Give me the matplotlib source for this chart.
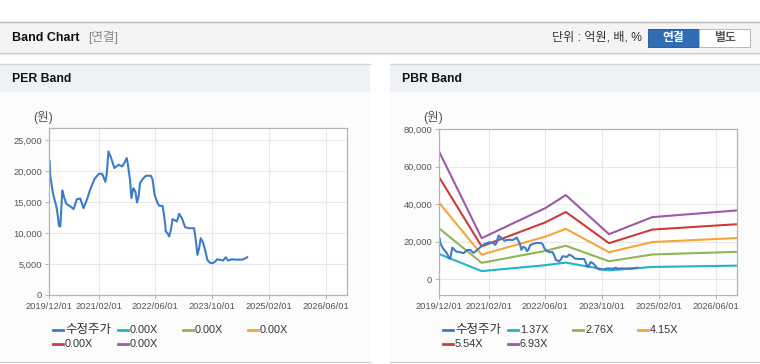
import numpy as np
import pandas as pd
import matplotlib
matplotlib.use('Agg')
import matplotlib.pyplot as plt
from matplotlib.patches import Rectangle
from matplotlib.lines import Line2D
from matplotlib.ticker import FuncFormatter

plt.rcParams['font.family'] = ['Liberation Sans', 'Noto Sans CJK KR', 'DejaVu Sans']

W, H = 760, 364

# adjusted share price (수정주가), same series on both charts
price_dates = [
    '2019-12-07', '2019-12-12', '2019-12-21', '2020-01-04', '2020-01-18', '2020-02-02',
    '2020-02-16', '2020-02-24', '2020-03-07', '2020-03-13', '2020-03-24', '2020-04-07',
    '2020-04-27', '2020-05-26', '2020-06-29', '2020-07-27', '2020-08-25', '2020-09-22',
    '2020-10-21', '2020-11-18', '2020-12-25', '2021-01-31', '2021-03-01', '2021-03-29',
    '2021-04-10', '2021-04-24', '2021-05-17', '2021-06-14', '2021-07-21', '2021-08-19',
    '2021-09-08', '2021-09-28', '2021-10-06', '2021-10-26', '2021-11-07', '2021-11-24',
    '2021-12-11', '2021-12-25', '2022-01-08', '2022-01-20', '2022-02-11', '2022-03-12',
    '2022-04-24', '2022-05-08', '2022-05-25', '2022-06-20', '2022-07-04', '2022-08-01',
    '2022-08-16', '2022-08-30', '2022-09-13', '2022-09-27', '2022-10-12', '2022-10-26',
    '2022-11-18', '2022-12-02', '2022-12-22', '2023-01-14', '2023-02-11', '2023-03-12',
    '2023-04-09', '2023-04-29', '2023-05-13', '2023-05-28', '2023-06-11', '2023-06-25',
    '2023-07-15', '2023-08-01', '2023-08-21', '2023-09-10', '2023-10-03', '2023-10-26',
    '2023-11-14', '2023-12-13', '2024-01-02', '2024-01-25', '2024-02-16', '2024-03-16',
    '2024-04-19', '2024-06-15', '2024-07-08', '2024-07-28',
]
price_values = [
    21600, 19280, 18100, 16470, 15390, 14310,
    12690, 11180, 11070, 12960, 16900, 15930,
    14740, 14420, 13880, 15500, 15600, 14040,
    15390, 17010, 18740, 19600, 19600, 18300,
    19700, 23220, 22140, 20520, 21060, 20790,
    21330, 22140, 21330, 18630, 15660, 17280,
    16740, 14960, 15930, 18090, 18740, 19280,
    19280, 18630, 16200, 14850, 14420, 14420,
    12690, 10260, 9990, 9450, 10530, 12260,
    12040, 11880, 13120, 12420, 10960, 10800,
    10800, 10800, 8910, 6480, 7560, 9180,
    8480, 7290, 5670, 5240, 5130, 5400,
    5780, 5670, 5560, 6100, 5560, 5780,
    5720, 5720, 5890, 6100,
]

# PBR band lines
band_dates = ['2019-12-01', '2020-12-01', '2022-06-01', '2022-11-23',
              '2023-11-29', '2024-12-04', '2026-12-01']
pbr_labels = ['1.37X', '2.76X', '4.15X', '5.54X', '6.93X']
pbr_137 = [13460, 4320, 7490, 8860, 4740, 6540, 7240]
pbr_276 = [27120, 8710, 15090, 17840, 9560, 13170, 14600]
pbr_415 = [40780, 13100, 22700, 26830, 14370, 19800, 21950]
pbr_554 = [54440, 17480, 30300, 35820, 19190, 26440, 29300]
pbr_693 = [68100, 21870, 37900, 44800, 24000, 33070, 36650]
pbr_bands = [pbr_137, pbr_276, pbr_415, pbr_554, pbr_693]

# PER bands have no data (0.00X)
per_labels = ['0.00X', '0.00X', '0.00X', '0.00X', '0.00X']

date_ticks = ['2019-12-01', '2021-02-01', '2022-06-01', '2023-10-01', '2025-02-01', '2026-06-01']
per_yticks = [0, 5000, 10000, 15000, 20000, 25000]
pbr_yticks = [0, 20000, 40000, 60000, 80000]

price_color = '#3d7cc9'
band_colors = ['#22b5c8', '#8cb752', '#f5a53a', '#d13a3a', '#9b59a7']

fig = plt.figure(figsize=(W / 100, H / 100), dpi=100)
fig.patch.set_facecolor('white')


def rect(x, y, w, h, fc, ec='none', lw=0, z=-2):
    fig.patches.append(Rectangle((x / W, 1 - (y + h) / H), w / W, h / H,
                                 transform=fig.transFigure, fc=fc, ec=ec, lw=lw, zorder=z))


def hline(x0, x1, y, color, lw=0.8):
    fig.lines.append(Line2D([x0 / W, x1 / W], [1 - y / H] * 2,
                            transform=fig.transFigure, color=color, lw=lw, zorder=-1))


def txt(x, y, s, **kw):
    fig.text(x / W, 1 - y / H, s, va='center', **kw)


# top header bar
rect(0, 22, 760, 30, '#f4f4f4')
hline(0, 760, 22, '#b8b8b8', 1.0)
hline(0, 760, 52.5, '#c4c4c4', 1.0)
hline(0, 760, 54, '#e8e8e8', 1.0)
txt(12, 38, 'Band Chart', fontsize=9, fontweight='bold', color='#111111')
txt(88, 38, '[연결]', fontsize=9, color='#8a8a8a')
txt(642, 38, '단위 : 억원, 배, %', fontsize=8.7, color='#333333', ha='right')
rect(648, 29, 51, 18, '#2f6db5', '#2a5f9e', 0.7, z=1)
rect(699, 29, 51, 18, '#ffffff', '#b8b8b8', 0.7, z=1)
txt(673.5, 38.5, '연결', fontsize=8.5, fontweight='bold', color='white', ha='center')
txt(724.5, 38.5, '별도', fontsize=8.5, fontweight='bold', color='#555555', ha='center')

# panels
for px, title in [(0, 'PER Band'), (390, 'PBR Band')]:
    rect(px, 92, 370, 270, '#fcfcfc')
    rect(px, 64, 370, 28, '#eef2f7')
    hline(px, px + 370, 64, '#d2d2d2', 1.0)
    hline(px, px + 370, 362, '#d2d2d2', 1.0)
    txt(px + 12, 79, title, fontsize=8.8, fontweight='bold', color='#111111')


def setup(ax, yticks, ylim):
    ax.set_facecolor('white')
    ax.set_xlim(pd.Timestamp('2019-12-01'), pd.Timestamp('2026-12-01'))
    ax.set_ylim(*ylim)
    ax.set_yticks(yticks)
    ax.yaxis.set_major_formatter(FuncFormatter(lambda v, p: f'{int(v):,}'))
    ax.set_xticks(pd.to_datetime(date_ticks))
    ax.set_xticklabels([d.replace('-', '/') for d in date_ticks])
    ax.grid(color='#e8e8e8', lw=0.8)
    ax.set_axisbelow(True)
    for s in ax.spines.values():
        s.set_color('#b4b4b4')
        s.set_linewidth(0.9)
    ax.tick_params(colors='#b4b4b4', labelcolor='#555555', labelsize=6.7,
                   length=3, width=0.7, pad=2)


pdates = pd.to_datetime(price_dates)
bdates = pd.to_datetime(band_dates)

ax1 = fig.add_axes([49 / W, 69 / H, 298 / W, 167 / H])
setup(ax1, per_yticks, (0, 27000))
ax1.plot(pdates, price_values, color=price_color, lw=1.5)

ax2 = fig.add_axes([439 / W, 69 / H, 298 / W, 166 / H])
setup(ax2, pbr_yticks, (-8400, 80000))
for vals, c in zip(pbr_bands, band_colors):
    ax2.plot(bdates, vals, color=c, lw=1.5)
ax2.plot(pdates, price_values, color=price_color, lw=1.5)

txt(33, 117, '(원)', fontsize=9, color='#555555')
txt(423, 117, '(원)', fontsize=9, color='#555555')


def legend(x0, y0, labels, colors):
    for i, (lab, c) in enumerate(zip(labels, colors)):
        r, k = divmod(i, 4)
        x = x0 + 65 * k
        y = y0 + 14 * r
        fig.lines.append(Line2D([x / W, (x + 10) / W], [1 - y / H] * 2,
                                transform=fig.transFigure, color=c, lw=2))
        size = 9 if lab == '수정주가' else 7.8
        txt(x + 12, y, lab, fontsize=size, color='#333333')


legend(53, 330, ['수정주가'] + per_labels, [price_color] + band_colors)
legend(443, 330, ['수정주가'] + pbr_labels, [price_color] + band_colors)

fig.savefig('out.png', dpi=100)
